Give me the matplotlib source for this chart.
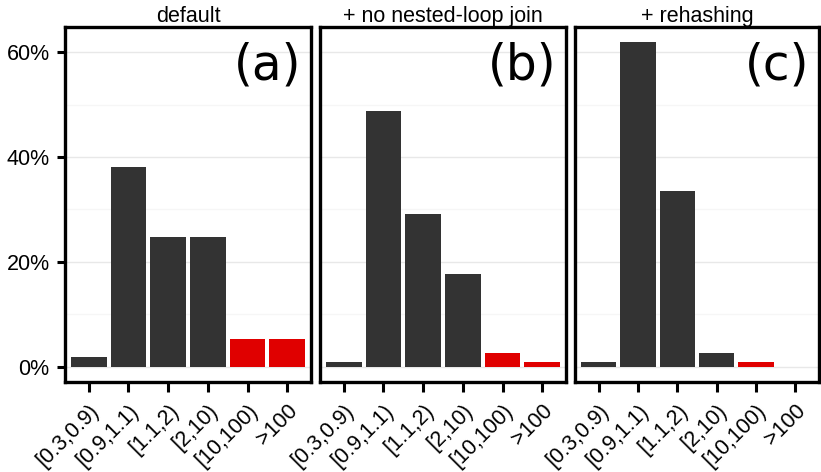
import matplotlib
matplotlib.use("Agg")
import matplotlib.pyplot as plt
import numpy as np

categories = ["[0.3,0.9)", "[0.9,1.1)", "[1.1,2)", "[2,10)", "[10,100)", ">100"]
panel_titles = ["default", "+ no nested-loop join", "+ rehashing"]
panel_tags = ["(a)", "(b)", "(c)"]
pct_default = [1.8, 38.1, 24.8, 24.8, 5.3, 5.3]
pct_no_nlj = [0.9, 48.7, 29.2, 17.7, 2.7, 0.9]
pct_rehash = [0.9, 61.9, 33.6, 2.7, 0.9, 0.0]
series = [pct_default, pct_no_nlj, pct_rehash]
bad = [False, False, False, False, True, True]
yticks = [0, 20, 40, 60]
ytick_labels = ["0%", "20%", "40%", "60%"]

plt.rcParams['font.family'] = ['Liberation Sans', 'DejaVu Sans']
W, H = 821, 472
fig = plt.figure(figsize=(W/100, H/100), dpi=100)
lefts = [65, 320, 575]
widths = [246, 246, 244]
top, bottom = 27, 382
for i in range(3):
    ax = fig.add_axes([lefts[i]/W, (H-bottom)/H, widths[i]/W, (bottom-top)/H])
    x = np.arange(len(categories))
    colors = ['#e00000' if b else '#333333' for b in bad]
    ax.bar(x, series[i], width=0.9, color=colors, zorder=3)
    ax.set_xlim(-0.6, 5.6)
    ax.set_ylim(-2.9, 64.8)
    for yv in [10, 30, 50]:
        ax.axhline(yv, color='#f6f6f6', lw=1, zorder=1)
    for yv in yticks:
        ax.axhline(yv, color='#e8e8e8', lw=1, zorder=1)
    ax.set_yticks(yticks)
    if i == 0:
        ax.set_yticklabels(ytick_labels, fontsize=15.5)
        ax.tick_params(axis='y', length=6, width=2.2, direction='out', pad=5)
    else:
        ax.set_yticklabels([])
        ax.tick_params(axis='y', length=0)
    ax.set_xticks(x)
    ax.set_xticklabels(categories, rotation=45, ha='right', rotation_mode='anchor', fontsize=15.5)
    ax.tick_params(axis='x', length=7, width=2.2, direction='out', pad=6)
    for s in ax.spines.values():
        s.set_linewidth(2.4)
        s.set_color('black')
    ax.set_title(panel_titles[i], fontsize=15.5, pad=3)
    ax.text(0.96, 0.96, panel_tags[i], transform=ax.transAxes, ha='right', va='top',
            fontsize=35, family=['DejaVu Sans'])
fig.savefig("out.png", dpi=100)
